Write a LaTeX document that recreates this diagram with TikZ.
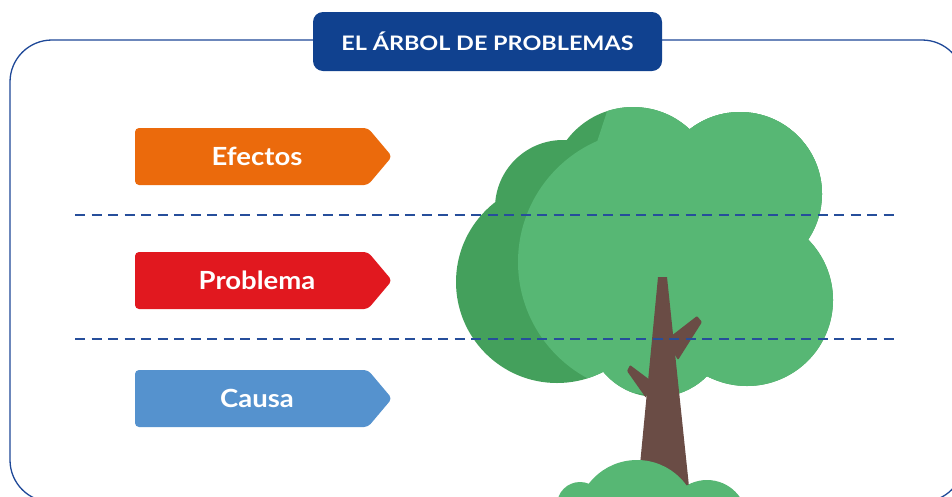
\documentclass[tikz,border=0pt]{standalone}
\usepackage{fontspec}
\setmainfont{Lato}
\newfontfamily\titlefont{Lato}[FakeStretch=1.17]
\newfontfamily\tagfont{Lato}[FakeStretch=1.1]
\begin{document}
\definecolor{navy}{RGB}{16,65,143}
\definecolor{framecol}{RGB}{30,72,152}
\definecolor{dashcol}{RGB}{38,78,155}
\definecolor{efecto}{RGB}{235,106,12}
\definecolor{problema}{RGB}{225,24,31}
\definecolor{causa}{RGB}{85,146,206}
\definecolor{leaf}{RGB}{87,183,116}
\definecolor{leafdark}{RGB}{68,160,92}
\definecolor{bark}{RGB}{106,76,69}
\newcommand\crownshape{%
  (563,208) circle (68pt) (633,190) circle (83pt) (740,194) circle (82pt)
  (747,300) circle (86pt) (657,327) circle (70pt) (557,282) circle (101pt)
  (650,260) circle (100pt)}
\begin{tikzpicture}[x=1pt,y=-1pt,
  tagtext/.style={text=white,font=\tagfont\bfseries\fontsize{25}{29}\selectfont},
  divider/.style={draw=dashcol,line width=1.3pt,dash pattern=on 10pt off 6.5pt}]
\clip (0,0) rectangle (952,496);
\fill[white] (0,0) rectangle (952,496);

% outer frame
\draw[framecol,line width=1.3pt,rounded corners=42pt] (10,40) rectangle (964,502);

% title banner
\node[fill=navy,rounded corners=10pt,minimum width=349pt,minimum height=59pt,
  text=white,font=\titlefont\bfseries\fontsize{20}{24}\selectfont] (title) at (487.5,41.5)
  {EL ÁRBOL DE PROBLEMAS};

% labelled tags
\foreach \y/\c/\t/\n in {128/efecto/Efectos/efectos,252/problema/Problema/problema,370/causa/Causa/causa}{
  \fill[\c,rounded corners=4pt] (135,\y) -- (368,\y) -- (392,\y+28.5) -- (368,\y+57) -- (135,\y+57) -- cycle;
  \node[tagtext] (\n) at (257,\y+28.5) {\t};
}

% tree crown: dark back layer
\fill[leafdark] \crownshape;
% light front layer, leaving a dark crescent on the left
\begin{scope}
  \clip (650,262) circle (132pt);
  \fill[leaf] \crownshape;
\end{scope}
\begin{scope}
  \clip (597,142) -- (614,90) -- (900,90) -- (900,200) -- (598,200) -- cycle;
  \fill[leaf] \crownshape;
\end{scope}
\begin{scope}
  \clip (650,90) rectangle (900,420);
  \fill[leaf] \crownshape;
\end{scope}

% trunk and branches
\fill[bark] (658,277) -- (667,277) -- (690,496) -- (637,496) -- cycle;
\fill[bark,rounded corners=1pt] (666,340) -- (697,316) -- (702,322) -- (678,360) -- cycle;
\fill[bark,rounded corners=1pt] (650,380) -- (630,365) -- (627,371) -- (646,398) -- cycle;

% bush at the foot
\fill[leaf] (637,521) circle (61pt) (580,505) circle (23pt) (707,520) circle (40pt);

% dividing lines
\coordinate (d1l) at (75,215);
\coordinate (d1r) at (900,215);
\coordinate (d2l) at (75,339);
\coordinate (d2r) at (900,339);
\draw[divider] (d1l) -- (d1r);
\draw[divider] (d2l) -- (d2r);
\end{tikzpicture}
\end{document}
